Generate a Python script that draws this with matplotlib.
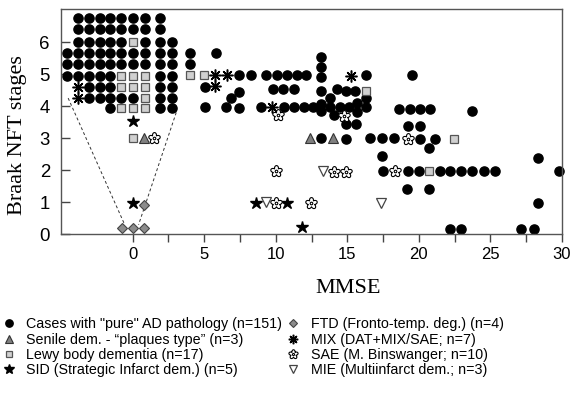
import numpy as np
import matplotlib
matplotlib.use("Agg")
import matplotlib.pyplot as plt
from matplotlib.path import Path

# ---- data ----
# inset: the MMSE = 0 cases spread out on a grid (o=AD, s=Lewy, x=MIX)
inset_cols = [-4.55, -3.8, -3.05, -2.3, -1.55, -0.8, 0.0, 0.9, 1.9, 2.75]
inset_rows = [6.74, 6.40, 6.0, 5.65, 5.30, 4.95, 4.61, 4.26, 3.93]
inset_grid = [
    ".oooooooo.",
    ".oooooooo.",
    ".ooooosooo",
    "oooooooooo",
    "oooooooooo",
    "ooooosssoo",
    ".xooosssoo",
    ".xooooosoo",
    "....osssoo",
]

ad_x = [3.98, 5.85, 3.98,
        7.41, 8.27, 9.34, 10.09, 10.79, 11.49, 12.14, 16.33, 19.52,
        13.17, 13.17, 13.17, 5.08,
        9.81, 10.51, 11.25, 14.3,
        7.41, 13.17, 14.93, 15.56,
        6.88, 13.82, 16.33,
        5.08, 6.55, 7.41, 8.98, 10.6, 11.3, 12.0, 12.6, 13.82, 14.47, 15.1, 16.33,
        13.17, 13.17, 15.68, 15.68, 14.05, 14.93, 15.6,
        18.6, 19.36, 20.1, 20.8, 23.72, 19.25, 20.1,
        13.17, 14.91, 16.56, 17.43, 18.29, 20.06, 21.15,
        20.69, 17.43, 28.3,
        17.5, 19.22, 19.99, 21.5, 22.2, 22.95, 23.72, 24.53, 25.35, 29.77,
        19.18, 20.69, 28.3,
        22.15, 22.95, 27.14, 28.02]
ad_y = [5.65, 5.65, 5.30,
        4.97, 4.97, 4.97, 4.97, 4.97, 4.97, 4.97, 4.97, 4.96,
        5.52, 5.23, 4.92, 4.59,
        4.52, 4.52, 4.52, 4.52,
        4.45, 4.48, 4.47, 4.47,
        4.24, 4.24, 4.24,
        3.96, 3.96, 3.93, 3.96, 3.96, 3.96, 3.96, 3.96, 3.96, 3.96, 3.96, 3.96,
        4.07, 3.85, 4.09, 3.83, 3.72, 3.45, 3.45,
        3.92, 3.92, 3.92, 3.92, 3.86, 3.38, 3.38,
        3.0, 2.97, 3.0, 3.0, 3.0, 2.97, 2.97,
        2.68, 2.44, 2.37,
        1.98, 1.98, 1.98, 1.98, 1.98, 1.98, 1.98, 1.98, 1.98, 1.98,
        1.41, 1.41, 0.97,
        0.16, 0.16, 0.16, 0.16]

senile_x = [0.77, 12.37, 13.98]
senile_y = [3.0, 3.02, 3.02]

lewy_x = [0.0, 3.98, 5.01, 16.33, 22.48, 20.74]
lewy_y = [3.01, 4.97, 4.97, 4.47, 2.96, 1.98]

sid_x = [0.0, 0.0, 8.64, 10.79, 11.84]
sid_y = [3.55, 0.97, 0.97, 0.97, 0.22]

ftd_x = [0.77, -0.74, 0.0, 0.77]
ftd_y = [0.91, 0.21, 0.21, 0.21]

mix_x = [5.78, 6.6, 5.78, 9.74, 15.26]
mix_y = [4.97, 4.97, 4.63, 3.98, 4.95]

sae_x = [1.52, 10.16, 14.75, 19.22, 18.36, 10.04, 14.1, 14.93, 10.04, 12.47]
sae_y = [3.0, 3.72, 3.69, 2.96, 1.98, 1.98, 1.95, 1.95, 0.97, 0.97]

mie_x = [13.3, 9.34, 17.35]
mie_y = [1.98, 1.02, 0.97]

# dashed funnel from the MMSE=0 column up to the inset
funnel_left = ([-4.5, -0.55], [4.25, 0.3])
funnel_right = ([3.05, 0.42], [3.8, 0.3])

labels = ['Cases with "pure" AD pathology (n=151)',
          'Senile dem. - \u201cplaques type\u201d (n=3)',
          'Lewy body dementia (n=17)',
          'SID (Strategic Infarct dem.) (n=5)',
          'FTD (Fronto-temp. deg.) (n=4)',
          'MIX (DAT+MIX/SAE; n=7)',
          'SAE (M. Binswanger; n=10)',
          'MIE (Multiinfarct dem.; n=3)']

# split the inset grid into the categories
for r, row in enumerate(inset_grid):
    for c, ch in enumerate(row):
        if ch == "o":
            ad_x.append(inset_cols[c]); ad_y.append(inset_rows[r])
        elif ch == "s":
            lewy_x.append(inset_cols[c]); lewy_y.append(inset_rows[r])
        elif ch == "x":
            mix_x.append(inset_cols[c]); mix_y.append(inset_rows[r])


def flower_marker(petals=5):
    t = np.linspace(0, 2 * np.pi, 240)
    r = 0.55 + 0.45 * np.abs(np.cos(petals * (t - np.pi / 2) / 2))
    outer = np.column_stack([r * np.cos(t), r * np.sin(t)])
    ti = np.linspace(0, 2 * np.pi, 40)
    inner = 0.22 * np.column_stack([np.cos(ti), np.sin(ti)])
    verts = np.vstack([outer, inner])
    codes = ([Path.MOVETO] + [Path.LINETO] * (len(outer) - 2) + [Path.CLOSEPOLY]
             + [Path.MOVETO] + [Path.LINETO] * (len(inner) - 2) + [Path.CLOSEPOLY])
    return Path(verts, codes)


plt.rcParams['font.family'] = ['Liberation Sans', 'DejaVu Sans']

fig = plt.figure(figsize=(5.76, 3.99), dpi=100)
ax = fig.add_axes([0.1059, 0.4128, 0.8698, 0.5646])

ax.plot(*funnel_left, ls=(0, (3, 2.5)), color='#333333', lw=0.7)
ax.plot(*funnel_right, ls=(0, (3, 2.5)), color='#333333', lw=0.7)

common = dict(ls='none', clip_on=False)
ax.plot(ad_x, ad_y, 'o', ms=6.6, color='black', mec='black', label=labels[0], **common)
ax.plot(senile_x, senile_y, '^', ms=7.2, mfc='#808080', mec='#333333', mew=0.8, label=labels[1], **common)
ax.plot(lewy_x, lewy_y, 's', ms=6.2, mfc='#d0d0d0', mec='#555555', mew=0.9, label=labels[2], **common)
ax.plot(sid_x, sid_y, '*', ms=9, color='black', label=labels[3], **common)
ax.plot(ftd_x, ftd_y, 'D', ms=5.6, mfc='#8c8c8c', mec='#444444', mew=0.8, label=labels[4], **common)
ax.plot(mix_x, mix_y, marker=(8, 2, 0), ms=8.5, color='black', mew=1.1, label=labels[5], **common)
ax.plot(sae_x, sae_y, marker=flower_marker(), ms=8.5, mfc='white', mec='black', mew=0.8, label=labels[6], **common)
ax.plot(mie_x, mie_y, 'v', ms=7.5, mfc='white', mec='#444444', mew=0.9, label=labels[7], **common)

ax.set_xlim(-5, 30)
ax.set_ylim(0, 7.03)
ax.set_xticks(np.arange(0, 31, 5))
ax.set_xticks(np.arange(0, 31, 2.5), minor=True)
ax.set_yticks(range(7))
ax.tick_params(axis='x', which='both', direction='out', length=6, width=1, color='#444444',
               labelsize=12, pad=3)
ax.tick_params(axis='y', direction='in', length=6.5, width=1, color='#444444',
               labelsize=13.4, pad=8)
for s in ax.spines.values():
    s.set_color('#555555')
    s.set_linewidth(1.0)

ax.set_xlabel('MMSE', family='Liberation Serif', fontsize=16)
ax.xaxis.set_label_coords(0.573, -0.2)
ax.set_ylabel('Braak NFT stages', family='Liberation Serif', fontsize=16)
ax.yaxis.set_label_coords(-0.068, 0.44)

fig.legend(loc='upper left', bbox_to_anchor=(0.003, 0.205), ncol=2, frameon=False,
           fontsize=10.3, handlelength=1.0, handletextpad=0.7, columnspacing=0.3,
           labelspacing=0.1, markerscale=0.8, borderaxespad=0, borderpad=0)

fig.savefig('out.png', dpi=100)
